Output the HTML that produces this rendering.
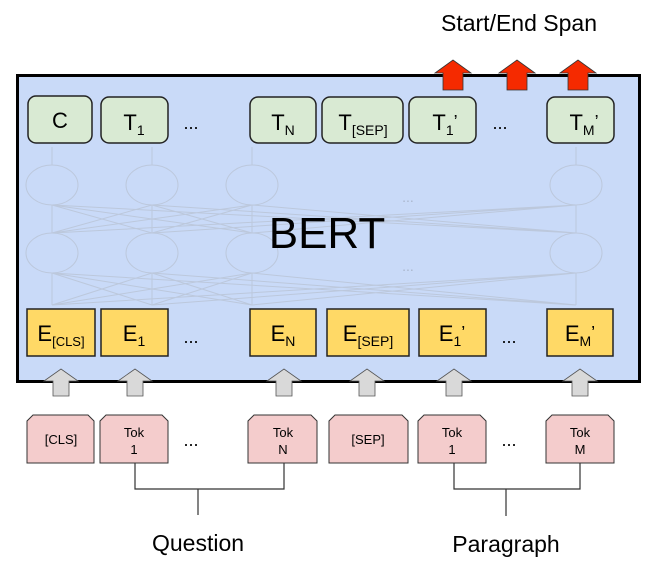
<!DOCTYPE html>
<html><head><style>
body{margin:0;background:#fff;}
svg{display:block;font-family:"Liberation Sans",sans-serif;}
</style></head><body>
<svg width="650" height="562" viewBox="0 0 650 562" xmlns="http://www.w3.org/2000/svg">
<text x="519" y="31" font-size="23" text-anchor="middle">Start/End Span</text>
<!-- main box -->
<rect x="17.5" y="75.5" width="622" height="306" fill="#c9daf8" stroke="#000" stroke-width="3"/>
<!-- red arrows -->
<g fill="#f52a00" stroke="#333" stroke-width="0.8">
<polygon points="443,90 463,90 463,73 471,73 453,60 435,73 443,73"/>
<polygon points="507,90 527,90 527,73 535,73 517,60 499,73 507,73"/>
<polygon points="568,90 588,90 588,73 596,73 578,60 560,73 568,73"/>
</g>
<!-- faint network -->
<g stroke="#bcc8dc" stroke-width="1" fill="none">
<ellipse cx="52" cy="185" rx="26" ry="20"/><ellipse cx="152" cy="185" rx="26" ry="20"/><ellipse cx="252" cy="185" rx="26" ry="20"/><ellipse cx="576" cy="185" rx="26" ry="20"/>
<ellipse cx="52" cy="253" rx="26" ry="20"/><ellipse cx="152" cy="253" rx="26" ry="20"/><ellipse cx="252" cy="253" rx="26" ry="20"/><ellipse cx="576" cy="253" rx="26" ry="20"/>
<path d="M52,165V147M152,165V147M252,165V147M576,165V147M52,233V205M152,233V205M252,233V205M576,233V205M52,305V273M152,305V273M252,305V273M576,305V273"/>
<path d="M52,233L152,205M52,233L252,205M52,233L576,205M152,233L52,205M152,233L252,205M152,233L576,205M252,233L52,205M252,233L152,205M252,233L576,205M576,233L52,205M576,233L152,205M576,233L252,205"/>
<path d="M52,305L152,273M52,305L252,273M52,305L576,273M152,305L52,273M152,305L252,273M152,305L576,273M252,305L52,273M252,305L152,273M252,305L576,273M576,305L52,273M576,305L152,273M576,305L252,273"/>
</g>
<text x="408" y="202" font-size="14" fill="#aab6cc" text-anchor="middle">...</text>
<text x="408" y="271" font-size="14" fill="#aab6cc" text-anchor="middle">...</text>
<text x="327" y="248" font-size="44" text-anchor="middle">BERT</text>
<!-- T boxes -->
<g fill="#d9ead3" stroke="#222" stroke-width="1.5">
<rect x="28" y="96" width="64" height="47" rx="8"/>
<rect x="101" y="97" width="67" height="46" rx="8"/>
<rect x="250" y="97" width="66" height="46" rx="8"/>
<rect x="322" y="97" width="81" height="46" rx="8"/>
<rect x="409" y="97" width="67" height="46" rx="8"/>
<rect x="547" y="97" width="67" height="46" rx="8"/>
</g>
<g font-size="22" text-anchor="middle">
<text x="60" y="128">C</text>
<text x="134" y="130">T<tspan font-size="14" dy="5">1</tspan></text>
<text x="283" y="130">T<tspan font-size="14" dy="5">N</tspan></text>
<text x="363" y="130">T<tspan font-size="14" dy="5">[SEP]</tspan></text>
<text x="445" y="130">T<tspan font-size="14" dy="5">1</tspan><tspan dy="-7" font-size="18">’</tspan></text>
<text x="584" y="130">T<tspan font-size="14" dy="5">M</tspan><tspan dy="-7" font-size="18">’</tspan></text>
<text x="191" y="129" font-size="18">...</text>
<text x="500" y="129" font-size="18">...</text>
</g>
<!-- E boxes -->
<g fill="#ffd966" stroke="#222" stroke-width="1.5">
<rect x="27" y="309" width="68" height="47"/>
<rect x="101" y="309" width="67" height="47"/>
<rect x="250" y="309" width="66" height="47"/>
<rect x="327" y="309" width="82" height="47"/>
<rect x="419" y="309" width="67" height="47"/>
<rect x="547" y="309" width="66" height="47"/>
</g>
<g font-size="22" text-anchor="middle">
<text x="61" y="341">E<tspan font-size="13" dy="5">[CLS]</tspan></text>
<text x="134" y="341">E<tspan font-size="14" dy="5">1</tspan></text>
<text x="283" y="341">E<tspan font-size="14" dy="5">N</tspan></text>
<text x="368" y="341">E<tspan font-size="14" dy="5">[SEP]</tspan></text>
<text x="452" y="341">E<tspan font-size="14" dy="5">1</tspan><tspan dy="-7" font-size="18">’</tspan></text>
<text x="580" y="341">E<tspan font-size="14" dy="5">M</tspan><tspan dy="-7" font-size="18">’</tspan></text>
<text x="191" y="343" font-size="18">...</text>
<text x="509" y="343" font-size="18">...</text>
</g>
<!-- gray arrows -->
<g fill="#d9d9d9" stroke="#555" stroke-width="0.8">
<polygon points="53,396 69,396 69,381 78,381 61,369 44,381 53,381"/>
<polygon points="127,396 143,396 143,381 152,381 135,369 118,381 127,381"/>
<polygon points="276,396 292,396 292,381 301,381 284,369 267,381 276,381"/>
<polygon points="359,396 375,396 375,381 384,381 367,369 350,381 359,381"/>
<polygon points="446,396 462,396 462,381 471,381 454,369 437,381 446,381"/>
<polygon points="572,396 588,396 588,381 597,381 580,369 563,381 572,381"/>
</g>
<!-- token boxes -->
<g fill="#f4cccc" stroke="#333" stroke-width="1">
<polygon points="33,415 88,415 94,421 94,463 27,463 27,421"/>
<polygon points="106,415 162,415 168,421 168,463 100,463 100,421"/>
<polygon points="254,415 311,415 317,421 317,463 248,463 248,421"/>
<polygon points="335,415 402,415 408,421 408,463 329,463 329,421"/>
<polygon points="424,415 480,415 486,421 486,463 418,463 418,421"/>
<polygon points="552,415 608,415 614,421 614,463 546,463 546,421"/>
</g>
<g font-size="13" text-anchor="middle">
<text x="61" y="444">[CLS]</text>
<text x="134" y="437">Tok</text><text x="134" y="454">1</text>
<text x="283" y="437">Tok</text><text x="283" y="454">N</text>
<text x="368" y="444">[SEP]</text>
<text x="452" y="437">Tok</text><text x="452" y="454">1</text>
<text x="580" y="437">Tok</text><text x="580" y="454">M</text>
<text x="191" y="446" font-size="18">...</text>
<text x="509" y="446" font-size="18">...</text>
</g>
<g stroke="#333" stroke-width="1.2" fill="none">
<path d="M135,463V489H284V463M198,489V515"/>
<path d="M454,463V489H580V463M506,489V516"/>
</g>
<g font-size="23" text-anchor="middle">
<text x="198" y="551">Question</text>
<text x="506" y="552">Paragraph</text>
</g>
</svg>
</body></html>
